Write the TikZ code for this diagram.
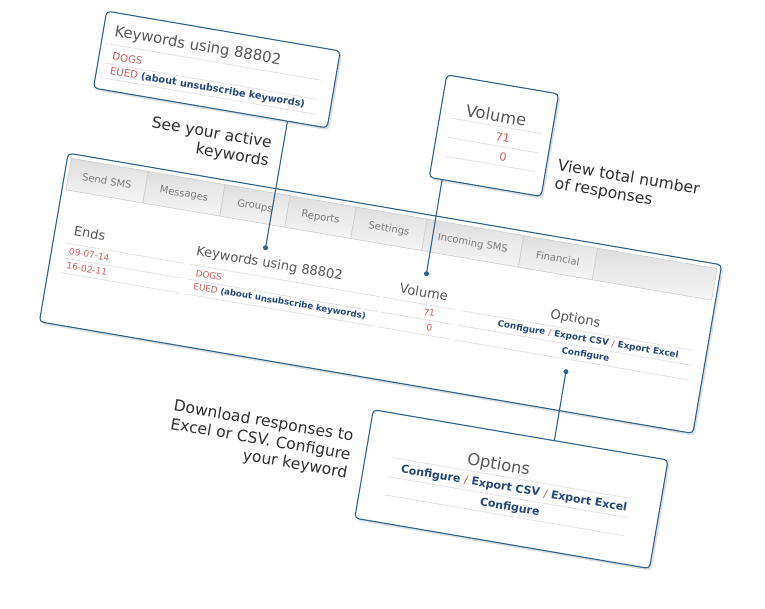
\documentclass[tikz,border=0pt]{standalone}
\usepackage{fontspec}
\setmainfont{DejaVu Sans}
\usetikzlibrary{shadows,calc}

\definecolor{frameblue}{RGB}{47,98,140}
\definecolor{linkblue}{RGB}{38,72,122}
\definecolor{cellred}{RGB}{208,92,92}
\definecolor{headgray}{RGB}{88,88,88}
\definecolor{notegray}{RGB}{48,48,48}
\definecolor{tabgray}{RGB}{125,125,125}
\definecolor{tabtop}{RGB}{222,222,222}
\definecolor{tabbot}{RGB}{246,246,246}
\definecolor{tabedge}{RGB}{205,205,205}
\definecolor{rulegray}{RGB}{226,226,226}

\tikzset{
  box/.style={draw=frameblue, line width=1.1pt, rounded corners=4pt, fill=white,
    drop shadow={shadow xshift=2pt, shadow yshift=-2.5pt, opacity=.25}},
  txt/.style={inner sep=0pt, outer sep=0pt},
  note/.style={txt, text=notegray, font=\fontsize{15.6}{18.5}\selectfont},
  head/.style={txt, text=headgray, font=\fontsize{#1}{#1}\selectfont},
  cell/.style={txt, text=cellred, font=\fontsize{#1}{#1}\selectfont},
  link/.style={txt, text=linkblue, font=\bfseries\fontsize{#1}{#1}\selectfont},
  tabname/.style={txt, text=tabgray, font=\fontsize{10}{10}\selectfont},
  tabfill/.style={top color=tabtop, bottom color=tabbot, draw=tabedge, line width=.6pt},
  rowrule/.style={draw=rulegray, line width=.7pt},
  conn/.style={draw=frameblue, line width=1.1pt},
  condot/.style={circle, fill=frameblue, inner sep=0pt, minimum size=5pt},
}

\begin{document}
\begin{tikzpicture}[x=1pt, y=-1pt]
\useasboundingbox (0,0) rectangle (765,609);
\begin{scope}[rotate=-9.7, transform shape]

% main panel
\node[box, minimum width=663pt, minimum height=171pt] (panel) at (424.5,225) {};

% tab bar
\shade[tabfill] (97,144) rectangle (175,176);
\shade[tabfill] (175,144) rectangle (253,176);
\shade[tabfill] (253,144) rectangle (319,176);
\shade[tabfill] (319,144) rectangle (386,176);
\shade[tabfill] (386,144) rectangle (458,176);
\shade[tabfill] (458,144) rectangle (556,176);
\shade[tabfill] (556,144) rectangle (631,176);
\shade[tabfill] (631,144) rectangle (752,176);
\node[tabname] (tsend) at (136,160.5) {Send SMS};
\node[tabname] (tmsg) at (214,160.5) {Messages};
\node[tabname] (tgrp) at (286,160.5) {Groups};
\node[tabname] (trep) at (352.5,160.5) {Reports};
\node[tabname] (tset) at (422,160.5) {Settings};
\node[tabname] (tinc) at (507,160.5) {Incoming SMS};
\node[tabname] (tfin) at (593.5,160.5) {Financial};

% table rules
\draw[rowrule] (106,228.5) -- (226,228.5) (106,243.5) -- (226,243.5) (106,258.5) -- (226,258.5);
\draw[rowrule] (232,228.5) -- (424,228.5) (232,243.5) -- (424,243.5) (232,258.5) -- (424,258.5);
\draw[rowrule] (428,228.5) -- (500,228.5) (428,243.5) -- (500,243.5) (428,258.5) -- (500,258.5);
\draw[rowrule] (506,228.5) -- (742,228.5) (506,243.5) -- (742,243.5) (506,258.5) -- (742,258.5);

% table text
\node[head=13.1, anchor=west] (ends) at (112,215) {Ends};
\node[cell=9, anchor=west] (end1) at (110.5,236) {09-07-14};
\node[cell=9, anchor=west] (end2) at (110.5,250.5) {16-02-11};
\node[head=13.1, anchor=west] (kwhead) at (236,215) {Keywords using 88802};
\node[cell=8.9, anchor=west] (kw1) at (239,236) {DOGS};
\node[cell=8.9, anchor=west] (kw2) at (239,250.5) {EUED {\color{linkblue}\bfseries\fontsize{8.6}{8.6}\selectfont(about unsubscribe keywords)}};
\node[head=13.1] (volhead) at (467,216.5) {Volume};
\node[cell=9, anchor=east] (vol1) at (481.5,236) {71};
\node[cell=9, anchor=east] (vol2) at (481.5,250.5) {0};
\node[head=13.1] (opthead) at (621,218) {Options};
\node[link=8.8] (opt1) at (637,236) {Configure {\color{cellred}\mdseries/} Export CSV {\color{cellred}\mdseries/} Export Excel};
\node[link=8.8] (opt2) at (637,251.5) {Configure};

% callout: keywords
\node[box, minimum width=237pt, minimum height=78pt] (kwbox) at (225.5,32) {};
\draw[rowrule] (112,25) -- (330,25) (112,44.5) -- (330,44.5) (112,59.5) -- (330,59.5);
\node[head=14.9, anchor=west] (kwbhead) at (118.5,12.5) {Keywords using 88802};
\node[cell=10.2, anchor=west] (kwb1) at (120.5,36.5) {DOGS};
\node[cell=10.2, anchor=west] (kwb2) at (120.5,52) {EUED {\color{linkblue}\bfseries\fontsize{9.7}{9.7}\selectfont(about unsubscribe keywords)}};
\node[note, align=right, anchor=east] (kwnote) at (292,105.3) {See your active\\keywords};

% callout: volume
\node[box, minimum width=113.5pt, minimum height=104pt] (volbox) at (509.75,50.5) {};
\draw[rowrule] (465,40.5) -- (556,40.5) (465,60) -- (556,60) (465,79) -- (556,79);
\node[head=16.4] (volbhead) at (508.5,30) {Volume};
\node[cell=11.2, anchor=east] (volb1) at (526,50.5) {71};
\node[cell=11.2, anchor=east] (volb2) at (526,70) {0};
\node[note, align=left, anchor=west] (volnote) at (578,79) {View total number\\of responses};

% callout: options
\node[box, minimum width=299pt, minimum height=110pt] (optbox) at (586.5,396) {};
\draw[rowrule] (463,385) -- (705,385) (463,404.5) -- (705,404.5) (463,423) -- (705,423);
\node[head=16.4] (optbhead) at (570,375) {Options};
\node[link=11] (optb1) at (589,395.5) {Configure {\color{cellred}\mdseries/} Export CSV {\color{cellred}\mdseries/} Export Excel};
\node[link=11] (optb2) at (588,414.5) {Configure};
\node[note, align=right, anchor=east] (optnote) at (422,390) {Download responses to\\Excel or CSV. Configure\\your keyword};

% connectors
\node[condot] (kwdot) at (303.5,199.5) {};
\node[condot] (voldot) at (466.5,198) {};
\node[condot] (optdot) at (620.5,271) {};
\draw[conn] ($(kwbox.south west)!.829!(kwbox.south east)$) -- (kwdot.center);
\draw[conn] ($(volbox.south west)!.119!(volbox.south east)$) -- (voldot.center);
\draw[conn] (optdot.center) -- ($(optbox.north west)!.614!(optbox.north east)$);

\end{scope}
\end{tikzpicture}
\end{document}
